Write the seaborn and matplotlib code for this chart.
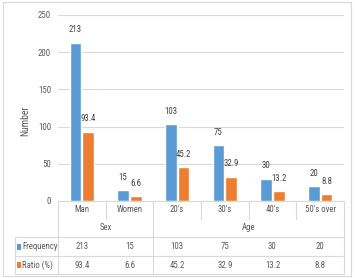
import matplotlib
matplotlib.use("Agg")
import matplotlib.pyplot as plt
import seaborn as sns
import pandas as pd
from matplotlib.transforms import blended_transform_factory
from matplotlib.lines import Line2D
from matplotlib.patches import Rectangle

categories = ["Man", "Women", "20's", "30's", "40's", "50's over"]
groups = ["Sex", "Age"]
group_spans = [(0, 2), (2, 6)]
frequency = [213, 15, 103, 75, 30, 20]
ratio = [93.4, 6.6, 45.2, 32.9, 13.2, 8.8]
series_names = ["Frequency", "Ratio (%)"]
yticks = [0, 50, 100, 150, 200, 250]

BLUE = "#5B9BD5"
ORANGE = "#ED7D31"
GRID = "#D9D9D9"
TXT = "#595959"
FS = 6.3

sns.set_theme(style="white")
plt.rcParams["font.family"] = ["Liberation Sans Narrow", "DejaVu Sans Condensed",
                               "Roboto Condensed", "DejaVu Sans"]

W, H = 355, 278
fig = plt.figure(figsize=(W / 100, H / 100), dpi=100)

def fx(p):
    return p / W

def fy(p):
    return (H - p) / H

ax = fig.add_axes([fx(58), fy(201), fx(344) - fx(58), fy(15) - fy(201)])

df = pd.DataFrame({
    "cat": categories * 2,
    "series": [series_names[0]] * len(categories) + [series_names[1]] * len(categories),
    "value": frequency + ratio,
})

sns.barplot(data=df, x="cat", y="value", hue="series", order=categories,
            hue_order=series_names, palette=[BLUE, ORANGE], width=0.54, gap=0.1,
            ax=ax, legend=False, saturation=1)

for cont in ax.containers:
    labels = [f"{b.get_height():g}" for b in cont]
    ax.bar_label(cont, labels=labels, padding=6, fontsize=FS, color="#404040")

ax.set_xlim(-0.5, len(categories) - 0.5)
ax.set_ylim(0, 250)
ax.set_yticks(yticks)
ax.set_yticklabels([str(t) for t in yticks], fontsize=FS, color=TXT)
ax.tick_params(axis="y", length=0, pad=5)
ax.set_xticks([])
ax.set_xlabel("")
ax.set_ylabel("")
ax.yaxis.grid(True, color=GRID, linewidth=0.8)
ax.set_axisbelow(True)
for s in ["top", "right", "left"]:
    ax.spines[s].set_visible(False)
ax.spines["bottom"].set_color(GRID)
ax.spines["bottom"].set_linewidth(0.8)

fig.text(fx(25), fy(121), "Number", rotation=90, ha="center", va="center",
         fontsize=7, color=TXT)

tr = blended_transform_factory(ax.transData, fig.transFigure)
n = len(categories)
xl, xr = -0.5, n - 0.5
px_per_unit = (344 - 58) / n
x_leg = xl - (58 - 15) / px_per_unit

def hline(x0, x1, ypx):
    ax.add_line(Line2D([x0, x1], [fy(ypx), fy(ypx)], transform=tr, color=GRID,
                       linewidth=0.8, clip_on=False))

def vline(x, y0, y1):
    ax.add_line(Line2D([x, x], [fy(y0), fy(y1)], transform=tr, color=GRID,
                       linewidth=0.8, clip_on=False))

hline(x_leg, xr, 237)
hline(x_leg, xr, 255.5)
hline(x_leg, xr, 274)
vline(x_leg, 237, 274)
vline(xl, 201, 274)
vline(xr, 201, 274)
bounds = set()
for g0, g1 in group_spans:
    bounds.add(g0)
    bounds.add(g1)
for i in range(1, n):
    if i in bounds:
        vline(i - 0.5, 201, 274)
    else:
        vline(i - 0.5, 201, 219)

for i, c in enumerate(categories):
    ax.text(i, fy(209.5), c, transform=tr, ha="center", va="center", fontsize=FS, color=TXT)
for g, (g0, g1) in zip(groups, group_spans):
    ax.text((g0 + g1 - 1) / 2, fy(228), g, transform=tr, ha="center", va="center",
            fontsize=FS, color=TXT)
for row_y, vals in [(246.5, frequency), (265, ratio)]:
    for i, v in enumerate(vals):
        ax.text(i, fy(row_y), f"{v:g}", transform=tr, ha="center", va="center",
                fontsize=FS, color=TXT)

for row_y, name, col in [(246.5, series_names[0], BLUE), (265, series_names[1], ORANGE)]:
    fig.add_artist(Rectangle((fx(17), fy(row_y + 3)), fx(4), fy(row_y - 3) - fy(row_y + 3),
                             transform=fig.transFigure, facecolor=col, edgecolor="none"))
    fig.text(fx(22.5), fy(row_y), name, ha="left", va="center", fontsize=FS, color=TXT)

fig.add_artist(Rectangle((fx(3), fy(276)), fx(348), fy(2) - fy(276), transform=fig.transFigure,
                         facecolor="none", edgecolor=GRID, linewidth=0.8))

fig.savefig("out.png", dpi=100)
